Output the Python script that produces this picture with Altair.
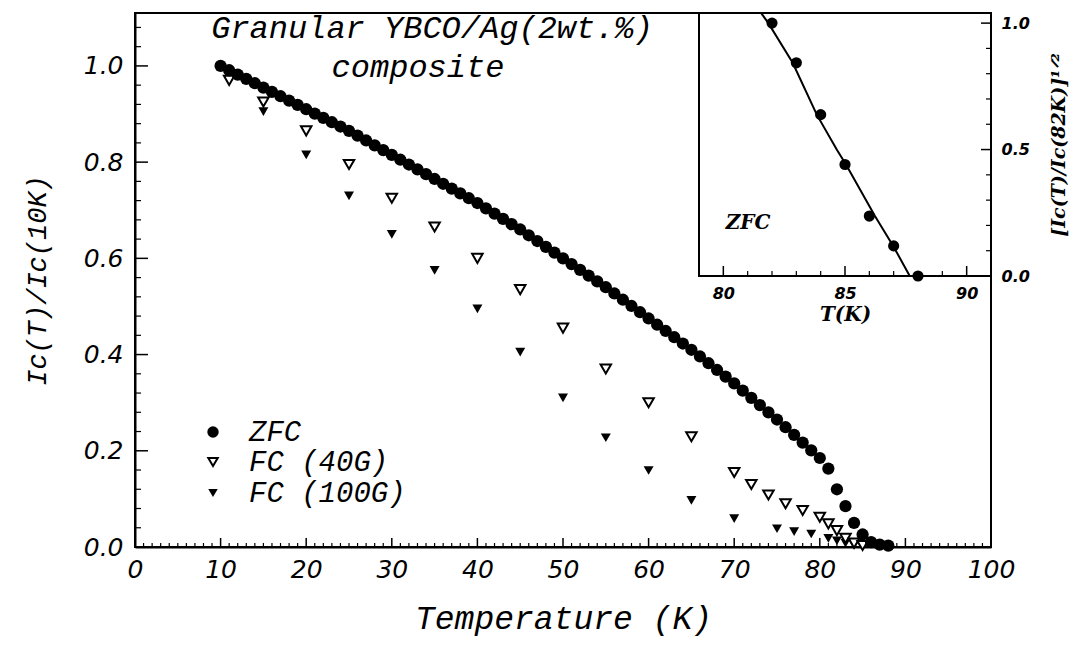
import altair as alt
import pandas as pd

# ---------------- data ----------------
zfc_T = list(range(10, 89))
zfc_I = [1.000, 0.991, 0.982, 0.973, 0.964, 0.955, 0.946, 0.937, 0.928, 0.919,
         0.910, 0.901, 0.892, 0.883, 0.874, 0.865, 0.855, 0.845, 0.835, 0.825,
         0.815, 0.805, 0.795, 0.785, 0.775, 0.765, 0.755, 0.745, 0.735, 0.725,
         0.715, 0.704, 0.693, 0.682, 0.671, 0.660, 0.648, 0.636, 0.624, 0.612,
         0.600, 0.588, 0.576, 0.564, 0.552, 0.540, 0.527, 0.514, 0.501, 0.488,
         0.475, 0.462, 0.449, 0.436, 0.423, 0.410, 0.396, 0.382, 0.368, 0.354,
         0.340, 0.325, 0.310, 0.295, 0.280, 0.265, 0.249, 0.233, 0.217, 0.201,
         0.185, 0.163, 0.120, 0.085, 0.050, 0.026, 0.010, 0.005, 0.003]

fc40_T = [11, 15, 20, 25, 30, 35, 40, 45, 50, 55, 60, 65, 70, 72, 74, 76, 78,
          80, 81, 82, 83, 84, 85]
fc40_I = [0.970, 0.925, 0.865, 0.795, 0.725, 0.665, 0.600, 0.535, 0.455, 0.370,
          0.300, 0.229, 0.155, 0.130, 0.108, 0.090, 0.076, 0.062, 0.048, 0.034,
          0.018, 0.008, 0.003]

fc100_T = [15, 20, 25, 30, 35, 40, 45, 50, 55, 60, 65, 70, 75, 77, 79, 81, 82,
           83, 84, 85]
fc100_I = [0.905, 0.815, 0.730, 0.650, 0.575, 0.495, 0.405, 0.310, 0.227, 0.159,
           0.097, 0.059, 0.038, 0.032, 0.027, 0.018, 0.013, 0.008, 0.004, 0.002]

inset_T = [82, 83, 84, 85, 86, 87, 88]
inset_R = [1.000, 0.843, 0.638, 0.441, 0.237, 0.119, 0.000]
fit_T = [81.55, 81.85, 82.85, 83.84, 84.66, 85.04, 86.23, 86.98, 87.66]
fit_R = [1.040, 1.000, 0.843, 0.638, 0.500, 0.441, 0.237, 0.119, 0.000]

series_names = ["ZFC", "FC (40G)", "FC (100G)"]
title_lines = ["Granular YBCO/Ag(2wt.%)", "composite"]

x_major = [0, 10, 20, 30, 40, 50, 60, 70, 80, 90, 100]
x_minor = [t for t in range(0, 101) if t % 10 != 0]
y_major = [0.0, 0.2, 0.4, 0.6, 0.8, 1.0]
y_minor = [round(0.04 * k, 2) for k in range(1, 28) if k % 5 != 0]

ix_major = [80, 85, 90]
ix_minor = [81, 82, 83, 84, 86, 87, 88, 89]
iy_major = [0.0, 0.5, 1.0]
iy_minor = [0.1, 0.2, 0.3, 0.4, 0.6, 0.7, 0.8, 0.9]

# ---------------- layout ----------------
W, H = 856, 534
INSET_L, INSET_B = 564, 263
SERIF = "Liberation Mono"

# ---------------- main plot ----------------
xaxis = alt.Axis(values=x_major, ticks=False, tickSize=0, grid=False,
                 labelFont="DejaVu Sans", labelFontStyle="italic", labelFontSize=25,
                 labelColor="black", labelPadding=10, labelFlush=False, labelOverlap=False,
                 domainColor="black", domainWidth=2,
                 title="Temperature (K)", titleFont=SERIF, titleFontStyle="italic",
                 titleFontWeight="normal", titleFontSize=33, titleColor="black",
                 titlePadding=20)
yaxis = alt.Axis(values=y_major, format=".1f", ticks=False, tickSize=0, grid=False,
                 labelFont="DejaVu Sans", labelFontStyle="italic", labelFontSize=25,
                 labelColor="black", labelPadding=12, labelFlush=False, labelOverlap=False,
                 domainColor="black", domainWidth=2,
                 title="Ic(T)/Ic(10K)", titleFont=SERIF, titleFontStyle="italic",
                 titleFontWeight="normal", titleFontSize=27, titleColor="black",
                 titlePadding=32)
X = alt.X("T:Q", scale=alt.Scale(domain=[0, 100], nice=False, zero=False), axis=xaxis)
Y = alt.Y("I:Q", scale=alt.Scale(domain=[0, 1.11], nice=False, zero=False), axis=yaxis)

df_zfc = pd.DataFrame({"T": zfc_T, "I": zfc_I})
df_40 = pd.DataFrame({"T": fc40_T, "I": fc40_I})
df_100 = pd.DataFrame({"T": fc100_T, "I": fc100_I})

fc100_pts = alt.Chart(df_100).mark_point(shape="triangle-down", filled=True, color="black",
                                          size=100, opacity=1).encode(x=X, y=Y)
fc40_pts = alt.Chart(df_40).mark_point(shape="triangle-down", filled=True, fill="white",
                                        stroke="black", strokeWidth=2, size=110,
                                        opacity=1).encode(x=X, y=Y)
zfc_pts = alt.Chart(df_zfc).mark_circle(color="black", size=150, opacity=1).encode(x=X, y=Y)

xt_maj = alt.Chart(pd.DataFrame({"T": x_major})).mark_rule(color="black", strokeWidth=1.5).encode(
    x=X, y=alt.value(H), y2=alt.value(H - 9))
xt_min = alt.Chart(pd.DataFrame({"T": x_minor})).mark_rule(color="black", strokeWidth=1.2).encode(
    x=X, y=alt.value(H), y2=alt.value(H - 4))
yt_maj = alt.Chart(pd.DataFrame({"I": y_major})).mark_rule(color="black", strokeWidth=1.5).encode(
    y=Y, x=alt.value(0), x2=alt.value(13))
yt_min = alt.Chart(pd.DataFrame({"I": y_minor})).mark_rule(color="black", strokeWidth=1.2).encode(
    y=Y, x=alt.value(0), x2=alt.value(6))

one = pd.DataFrame({"k": [0]})
title1 = alt.Chart(pd.DataFrame({"txt": [title_lines[0]]})).mark_text(
    font=SERIF, fontStyle="italic", fontSize=32, align="center", baseline="middle",
    color="black").encode(text="txt:N", x=alt.value(297), y=alt.value(15))
title2 = alt.Chart(pd.DataFrame({"txt": [title_lines[1]]})).mark_text(
    font=SERIF, fontStyle="italic", fontSize=32, align="center", baseline="middle",
    color="black").encode(text="txt:N", x=alt.value(283), y=alt.value(54))

leg_y = [419, 449, 480]
leg_sym0 = alt.Chart(one).mark_circle(color="black", size=130, opacity=1).encode(
    x=alt.value(78), y=alt.value(leg_y[0]))
leg_sym1 = alt.Chart(one).mark_point(shape="triangle-down", filled=True, fill="white",
                                     stroke="black", strokeWidth=2, size=90, opacity=1).encode(
    x=alt.value(78), y=alt.value(leg_y[1]))
leg_sym2 = alt.Chart(one).mark_point(shape="triangle-down", filled=True, color="black",
                                     size=90, opacity=1).encode(
    x=alt.value(78), y=alt.value(leg_y[2]))
leg_txt = []
for name, yy in zip(series_names, leg_y):
    leg_txt.append(alt.Chart(pd.DataFrame({"txt": [name]})).mark_text(
        font=SERIF, fontStyle="italic", fontSize=29, align="left", baseline="middle",
        color="black").encode(text="txt:N", x=alt.value(114), y=alt.value(yy)))

main = alt.layer(xt_min, xt_maj, yt_min, yt_maj, fc100_pts, fc40_pts, zfc_pts,
                 title1, title2, leg_sym0, leg_sym1, leg_sym2, *leg_txt)

# ---------------- inset ----------------
ixaxis = alt.Axis(orient="bottom", offset=-(H - INSET_B), values=ix_major, ticks=False,
                  tickSize=0, domain=False, grid=False,
                  labelFont="DejaVu Sans", labelFontStyle="italic", labelFontWeight="bold",
                  labelFontSize=16, labelColor="black", labelPadding=9, labelFlush=False,
                  title="T(K)", titleFont="DejaVu Serif", titleFontStyle="italic",
                  titleFontWeight="bold", titleFontSize=20, titleColor="black", titlePadding=3)
iyaxis = alt.Axis(orient="right", values=iy_major, format=".1f", ticks=False, tickSize=0,
                  domain=False, grid=False,
                  labelFont="DejaVu Sans", labelFontStyle="italic", labelFontWeight="bold",
                  labelFontSize=16, labelColor="black", labelPadding=10, labelFlush=False,
                  title="[Ic(T)/Ic(82K)]¹ᐟ²", titleFont="DejaVu Serif", titleFontStyle="italic",
                  titleFontWeight="bold", titleFontSize=19, titleColor="black",
                  titleAngle=270, titleBaseline="top", titlePadding=20)
IX = alt.X("T:Q", scale=alt.Scale(domain=[79, 91], range=[INSET_L, W], nice=False, zero=False),
           axis=ixaxis)
IY = alt.Y("R:Q", scale=alt.Scale(domain=[0, 1.04], range=[INSET_B, 0], nice=False, zero=False),
           axis=iyaxis)

inset_frame = alt.Chart(one).mark_rect(fill="white", stroke="black", strokeWidth=2).encode(
    x=alt.value(INSET_L), x2=alt.value(W), y=alt.value(0), y2=alt.value(INSET_B))
ixt_maj = alt.Chart(pd.DataFrame({"T": ix_major})).mark_rule(color="black", strokeWidth=1.5).encode(
    x=IX, y=alt.value(INSET_B), y2=alt.value(INSET_B - 10))
ixt_min = alt.Chart(pd.DataFrame({"T": ix_minor})).mark_rule(color="black", strokeWidth=1.2).encode(
    x=IX, y=alt.value(INSET_B), y2=alt.value(INSET_B - 5))
iyt_maj = alt.Chart(pd.DataFrame({"R": iy_major})).mark_rule(color="black", strokeWidth=1.5).encode(
    y=IY, x=alt.value(W), x2=alt.value(W - 10))
iyt_min = alt.Chart(pd.DataFrame({"R": iy_minor})).mark_rule(color="black", strokeWidth=1.2).encode(
    y=IY, x=alt.value(W), x2=alt.value(W - 5))
fit_line = alt.Chart(pd.DataFrame({"T": fit_T, "R": fit_R, "o": list(range(len(fit_T)))})).mark_line(
    color="black", strokeWidth=2).encode(x=IX, y=IY, order="o:Q")
inset_pts = alt.Chart(pd.DataFrame({"T": inset_T, "R": inset_R})).mark_circle(
    color="black", size=125, opacity=1).encode(x=IX, y=IY)
inset_lbl = alt.Chart(pd.DataFrame({"txt": [series_names[0]]})).mark_text(
    font="DejaVu Serif", fontStyle="italic", fontWeight="bold", fontSize=20, align="center",
    baseline="middle", color="black").encode(text="txt:N", x=alt.value(613), y=alt.value(210))

inset = alt.layer(inset_frame, ixt_min, ixt_maj, iyt_min, iyt_maj, fit_line, inset_pts, inset_lbl)

chart = alt.layer(main, inset).resolve_scale(x="independent", y="independent").resolve_axis(
    x="independent", y="independent").properties(
    width=W, height=H,
    autosize=alt.AutoSizeParams(type="none"),
    padding={"left": 135, "top": 13, "right": 1072 - 135 - W, "bottom": 650 - 13 - H},
    background="white",
).configure_view(stroke="black", strokeWidth=2)

chart.save("out.html", embed_options={"renderer": "svg", "actions": False})
